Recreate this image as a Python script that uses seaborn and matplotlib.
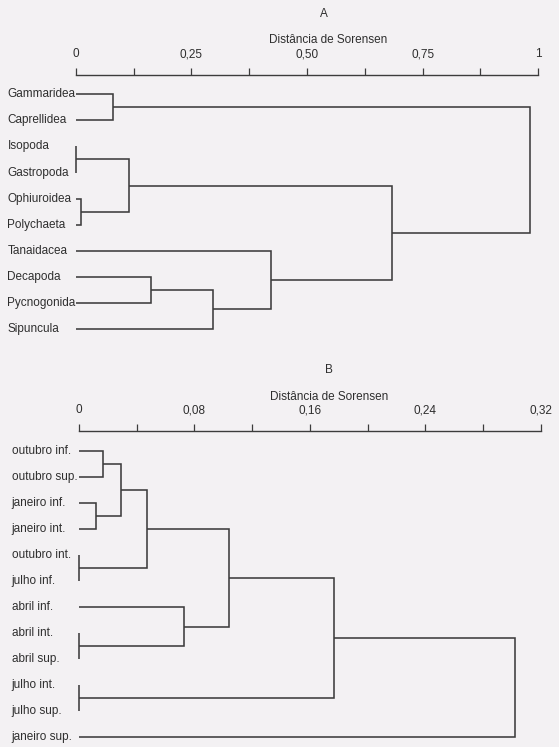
import numpy as np
import pandas as pd
import matplotlib
matplotlib.use("Agg")
import matplotlib.pyplot as plt
import matplotlib.transforms as mtransforms
from matplotlib.ticker import MultipleLocator, FixedLocator, FixedFormatter
import seaborn as sns

# ---- Panel A: faunal groups ----
taxa = ["Gammaridea", "Caprellidea", "Isopoda", "Gastropoda", "Ophiuroidea",
        "Polychaeta", "Tanaidacea", "Decapoda", "Pycnogonida", "Sipuncula"]
# (child a, child b, Sorensen distance); ids < len(labels) are leaves,
# id len(labels)+k is the cluster formed by merge k
taxa_merges = [
    (2, 3, 0.000),
    (4, 5, 0.012),
    (0, 1, 0.080),
    (10, 11, 0.115),
    (7, 8, 0.163),
    (14, 9, 0.296),
    (6, 15, 0.423),
    (13, 16, 0.683),
    (12, 17, 0.981),
]
taxa_ticks = [0, 0.25, 0.50, 0.75, 1]
taxa_ticklabels = ["0", "0,25", "0,50", "0,75", "1"]

# ---- Panel B: sampling months / levels ----
samples = ["outubro inf.", "outubro sup.", "janeiro inf.", "janeiro int.",
           "outubro int.", "julho inf.", "abril inf.", "abril int.",
           "abril sup.", "julho int.", "julho sup.", "janeiro sup."]
sample_merges = [
    (4, 5, 0.000),
    (7, 8, 0.000),
    (9, 10, 0.000),
    (2, 3, 0.0118),
    (0, 1, 0.0168),
    (16, 15, 0.0289),
    (17, 12, 0.0474),
    (6, 13, 0.0729),
    (18, 19, 0.104),
    (20, 14, 0.1768),
    (21, 11, 0.302),
]
sample_ticks = [0, 0.08, 0.16, 0.24, 0.32]
sample_ticklabels = ["0", "0,08", "0,16", "0,24", "0,32"]

AXIS_TITLE = "Distância de Sorensen"

BG = "#f3f1f3"
INK = "#3c3c3c"
TEXT = "#2e2e2e"

sns.set_theme(style="white")
plt.rcParams["font.family"] = ["Liberation Sans", "DejaVu Sans"]


def dendro_segments(labels, merges):
    """Build the bracket polylines of a horizontal dendrogram."""
    n = len(labels)
    ypos = {i: float(i) for i in range(n)}
    height = {i: 0.0 for i in range(n)}
    rows = []
    for k, (a, b, h) in enumerate(merges):
        node = n + k
        pts = [(height[a], ypos[a]), (h, ypos[a]), (h, ypos[b]), (height[b], ypos[b])]
        for order, (x, y) in enumerate(pts):
            rows.append({"seg": k, "order": order, "x": x, "y": y})
        ypos[node] = (ypos[a] + ypos[b]) / 2
        height[node] = h
    return pd.DataFrame(rows)


def draw_panel(fig, rect, labels, merges, xmax, step, ticks, ticklabels,
               ylims, label_x):
    ax = fig.add_axes(rect)
    ax.set_facecolor(BG)
    segs = dendro_segments(labels, merges)
    sns.lineplot(data=segs, x="x", y="y", units="seg", estimator=None,
                 sort=False, color=INK, linewidth=1.15, ax=ax, legend=False)
    for ln in ax.lines:
        ln.set_clip_on(False)
        ln.set_solid_capstyle("butt")
        ln.set_solid_joinstyle("miter")
    ax.set_xlim(0, xmax)
    ax.set_ylim(*ylims)
    ax.set_xlabel("")
    ax.set_ylabel("")
    ax.set_yticks([])
    for side in ("left", "right", "bottom"):
        ax.spines[side].set_visible(False)
    ax.spines["top"].set_color(INK)
    ax.spines["top"].set_linewidth(1.0)
    ax.xaxis.tick_top()
    ax.xaxis.set_major_locator(FixedLocator(ticks))
    ax.xaxis.set_major_formatter(FixedFormatter(ticklabels))
    ax.xaxis.set_minor_locator(MultipleLocator(step))
    ax.tick_params(axis="x", which="both", direction="out", length=5,
                   width=0.9, color=INK, top=True, bottom=False)
    ax.tick_params(axis="x", which="major", pad=5.5, labelsize=8.5,
                   labelcolor=TEXT)
    trans = mtransforms.blended_transform_factory(fig.transFigure, ax.transData)
    for i, name in enumerate(labels):
        ax.text(label_x, i, name, transform=trans, ha="left", va="center",
                fontsize=8.5, color=TEXT)
    return ax


W, H = 559, 747
fig = plt.figure(figsize=(W / 100, H / 100), dpi=100)
fig.patch.set_facecolor(BG)


def fx(px):
    return px / W


def fy(py):
    return 1 - py / H


# Panel A axes: x 75.7..538.3 px, axis line at y=75 px
a_top, a_bot = 75.0, 342.0
a_first, a_sp = 94.3, 26.08
draw_panel(fig, [fx(75.7), fy(a_bot), fx(538.3 - 75.7), (a_bot - a_top) / H],
           taxa, taxa_merges, 1.0, 0.125, taxa_ticks, taxa_ticklabels,
           ((a_bot - a_first) / a_sp, (a_top - a_first) / a_sp), fx(7.5))
fig.text(fx(323.5), fy(14), "A", ha="center", va="center", fontsize=8.5, color=TEXT)
fig.text(fx(328), fy(40), AXIS_TITLE, ha="center", va="center", fontsize=8.5, color=TEXT)

# Panel B axes: x 79..540.7 px, axis line at y=430.7 px
b_top, b_bot = 430.7, 746.5
b_first, b_sp = 450.7, 26.05
draw_panel(fig, [fx(79.0), fy(b_bot), fx(540.7 - 79.0), (b_bot - b_top) / H],
           samples, sample_merges, 0.32, 0.04, sample_ticks, sample_ticklabels,
           ((b_bot - b_first) / b_sp, (b_top - b_first) / b_sp), fx(11.7))
fig.text(fx(328.5), fy(370), "B", ha="center", va="center", fontsize=8.5, color=TEXT)
fig.text(fx(329), fy(396.7), AXIS_TITLE, ha="center", va="center", fontsize=8.5, color=TEXT)

fig.savefig("out.png", dpi=100, facecolor=BG)
